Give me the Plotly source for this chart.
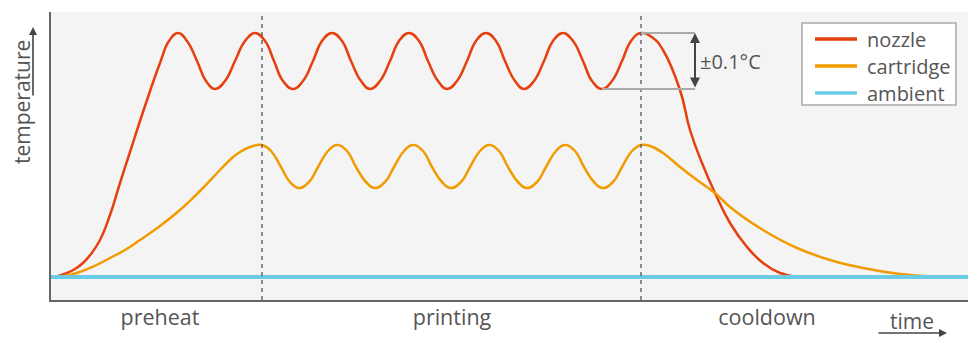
import plotly.graph_objects as go

# ---- data (time in arbitrary units, temperature in arbitrary units) ----
nozzle_t = [4, 16, 24, 32, 40, 49, 59, 69, 79, 94, 109, 118, 127,
            136, 146, 155, 164, 174, 184, 194, 204,
            214, 223, 232, 242, 252, 262, 271, 281,
            291, 300, 310, 319, 329, 339, 348, 358,
            368, 377, 387, 396, 406, 416, 425, 435,
            445, 454, 464, 473, 483, 493, 502, 512,
            522, 532, 541, 551, 561, 571, 580, 590,
            602, 612, 629, 639, 651, 664, 679, 696, 712, 729, 746, 779, 917]
nozzle_T = [23, 27, 31, 37, 46, 60, 85, 117, 148, 194, 237, 259, 267,
            259, 239, 219, 211, 219, 239, 259, 267,
            259, 239, 219, 211, 219, 239, 259, 267,
            259, 239, 219, 211, 219, 239, 259, 267,
            259, 239, 219, 211, 219, 239, 259, 267,
            259, 239, 219, 211, 219, 239, 259, 267,
            259, 239, 219, 211, 219, 239, 259, 267,
            262, 250, 210, 170, 137, 107, 77, 53, 37, 27, 23, 23, 23]

cartridge_t = [4, 19, 39, 59, 74, 89, 109, 129, 149, 169, 181, 189, 199, 211,
               220, 230, 239, 248, 258, 267, 277, 286,
               296, 305, 315, 324, 334, 343, 353, 362,
               372, 381, 391, 400, 410, 419, 429, 438,
               448, 457, 467, 476, 486, 495, 505, 514,
               524, 533, 543, 552, 562, 571, 581, 590,
               599, 612, 629, 646, 664, 679, 712, 746, 779, 812, 849, 889, 917]
cartridge_T = [23, 25, 32, 42, 50, 60, 74, 90, 109, 130, 142, 148, 153, 155,
               149, 133, 118, 112, 118, 133, 149, 155,
               149, 133, 118, 112, 118, 133, 149, 155,
               149, 133, 118, 112, 118, 133, 149, 155,
               149, 133, 118, 112, 118, 133, 149, 155,
               149, 133, 118, 112, 118, 133, 149, 155,
               154, 147, 133, 120, 107, 93, 70, 52, 40, 32, 26, 23, 23]

ambient_t = [0, 917]
ambient_T = [23, 23]

phase_bounds = [211, 590]
phase_label_t = [109, 401, 716]
phase_labels = ["preheat", "printing", "cooldown"]

series_names = ["nozzle", "cartridge", "ambient"]
colors = ["#e5400e", "#f29b00", "#6ccbe4"]

TXT = "#555555"
FONT = "Open Sans"

# plot-area geometry helpers (pixels -> paper)
L, T_, W, H = 51, 12, 917, 288
def px(x):
    return (x - L) / W
def py(y):
    return (T_ + H - y) / H

fig = go.Figure()
for name, t, T, c, w in zip(series_names,
                            [nozzle_t, cartridge_t, ambient_t],
                            [nozzle_T, cartridge_T, ambient_T],
                            colors, [2.5, 2.5, 4]):
    fig.add_trace(go.Scatter(x=t, y=T, name=name, mode="lines", showlegend=False,
                             line=dict(color=c, width=w, shape="spline", smoothing=1.3)))

# phase boundaries
for b in phase_bounds:
    fig.add_shape(type="line", xref="x", yref="paper", x0=b, x1=b, y0=0, y1=1,
                  line=dict(color="#555555", width=1.3, dash="4px,4px"))

# ±0.1°C bracket derived from nozzle data
osc = [T for t, T in zip(nozzle_t, nozzle_T) if phase_bounds[0] <= t <= phase_bounds[1]]
y_peak, y_trough = max(osc), min(osc)
last_trough_t = max(t for t, T in zip(nozzle_t, nozzle_T)
                    if T == y_trough and t <= phase_bounds[1])
bx = phase_bounds[1] + 54
fig.add_shape(type="line", x0=phase_bounds[1], x1=bx, y0=y_peak, y1=y_peak,
              line=dict(color="#aaaaaa", width=2))
fig.add_shape(type="line", x0=last_trough_t, x1=bx, y0=y_trough, y1=y_trough,
              line=dict(color="#aaaaaa", width=2))
fig.add_annotation(x=bx, y=y_peak, ax=bx, ay=y_trough, axref="x", ayref="y",
                   xref="x", yref="y", text="", showarrow=True,
                   arrowhead=2, startarrowhead=2, arrowside="end+start",
                   arrowsize=1, startarrowsize=1, arrowwidth=2, arrowcolor="#444444",
                   standoff=0, startstandoff=0)
fig.add_annotation(x=bx + 3, y=(y_peak + y_trough) / 2, xref="x", yref="y",
                   text="±0.1°C", showarrow=False, xanchor="left", yanchor="middle",
                   font=dict(family=FONT, size=20, color=TXT))

# custom legend (box, line samples, labels)
fig.add_shape(type="rect", xref="paper", yref="paper", x0=px(802), x1=px(956),
              y0=py(105), y1=py(23), fillcolor="white",
              line=dict(color="#aaaaaa", width=1.5), layer="above")
for i, (name, c) in enumerate(zip(series_names, colors)):
    yy = py(39 + 27 * i)
    fig.add_shape(type="line", xref="paper", yref="paper", x0=px(815), x1=px(857),
                  y0=yy, y1=yy, line=dict(color=c, width=3.5), layer="above")
    fig.add_annotation(x=px(865), y=yy, xref="paper", yref="paper", text=name,
                       showarrow=False, xanchor="left", yanchor="middle",
                       font=dict(family=FONT, size=20, color=TXT))

# axis titles with arrows
fig.add_annotation(x=px(912), y=py(321), xref="paper", yref="paper",
                   text="time", showarrow=False, xanchor="center", yanchor="middle",
                   font=dict(family=FONT, size=21, color=TXT))
fig.add_annotation(x=px(947), y=py(333), xref="paper", yref="paper",
                   ax=-70, ay=0, axref="pixel", ayref="pixel", text="", showarrow=True,
                   arrowhead=2, arrowsize=1, arrowwidth=1.6, arrowcolor="#444444")
fig.add_annotation(x=px(22), y=py(102), xref="paper", yref="paper",
                   text="temperature", textangle=-90, showarrow=False,
                   xanchor="center", yanchor="middle",
                   font=dict(family=FONT, size=21, color=TXT))
fig.add_annotation(x=px(33), y=py(27), xref="paper", yref="paper",
                   ax=0, ay=70, axref="pixel", ayref="pixel", text="", showarrow=True,
                   arrowhead=2, arrowsize=1, arrowwidth=1.6, arrowcolor="#444444")

fig.update_layout(
    width=968, height=337,
    margin=dict(l=L, r=0, t=T_, b=337 - T_ - H),
    paper_bgcolor="white", plot_bgcolor="#f4f4f4",
    font=dict(family=FONT, color=TXT),
    showlegend=False,
    xaxis=dict(range=[0, 917], showgrid=False, zeroline=False, showline=True,
               linecolor="#666666", linewidth=1.5, tickvals=phase_label_t,
               ticktext=phase_labels, ticks="", ticklabelstandoff=-3,
               tickfont=dict(family=FONT, size=21.5, color=TXT),
               fixedrange=True),
    yaxis=dict(range=[0, 288], showgrid=False, zeroline=False, showline=True,
               linecolor="#666666", linewidth=1.5, showticklabels=False, ticks="",
               fixedrange=True),
)

fig.write_html("out.html", config={"displayModeBar": False},
               post_script="document.body.style.margin='0';")
